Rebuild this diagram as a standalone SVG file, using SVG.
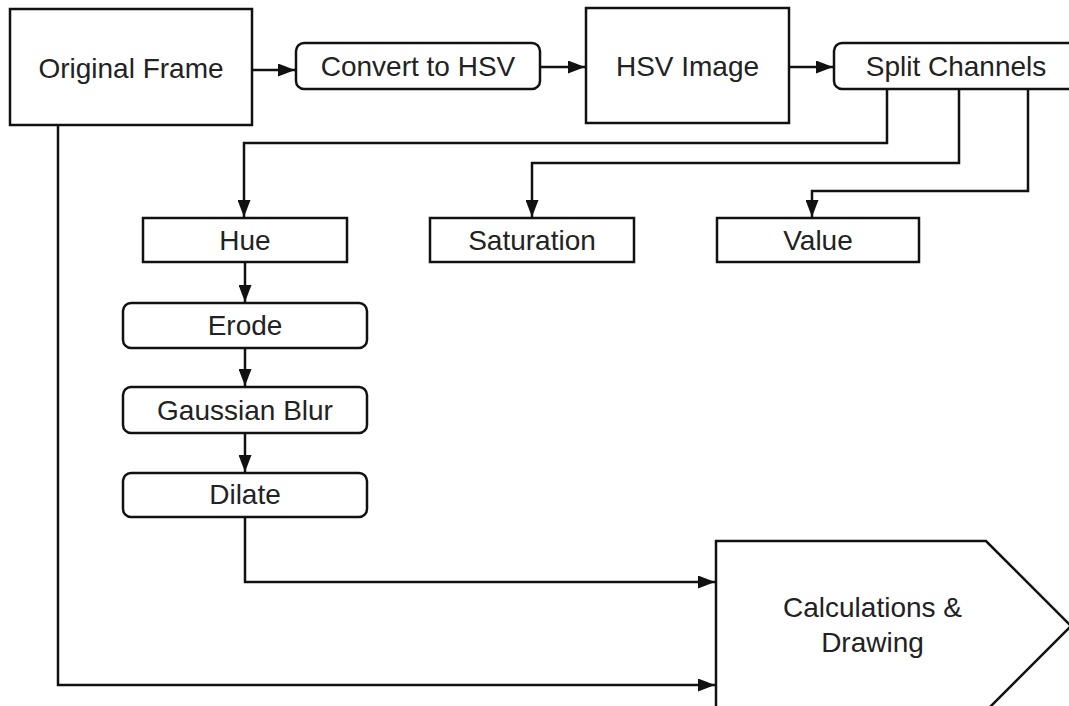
<svg xmlns="http://www.w3.org/2000/svg" width="1069" height="706" viewBox="0 0 1069 706">
<defs>
<style>
.box{fill:#fff;stroke:#111;stroke-width:2.5}
.lbl{font-family:"Liberation Sans",Arial,sans-serif;font-size:28px;fill:#222;text-anchor:middle}
.con{fill:none;stroke:#111;stroke-width:2.5}
</style>
<marker id="ah" viewBox="0 0 17 13" refX="17" refY="6.5" markerWidth="17" markerHeight="13" markerUnits="userSpaceOnUse" orient="auto">
<path d="M0,0 L17,6.5 L0,13 z" fill="#111"/>
</marker>
</defs>
<rect width="1069" height="706" fill="#fff"/>
<g id="connectors">
<path class="con" d="M252,70 H295" marker-end="url(#ah)"/>
<path class="con" d="M540,67 H585" marker-end="url(#ah)"/>
<path class="con" d="M789,67 H833" marker-end="url(#ah)"/>
<path class="con" d="M887,89 V143 H244 V217" marker-end="url(#ah)"/>
<path class="con" d="M959,89 V163 H532 V217" marker-end="url(#ah)"/>
<path class="con" d="M1028,89 V191 H812 V217" marker-end="url(#ah)"/>
<path class="con" d="M245,262 V302" marker-end="url(#ah)"/>
<path class="con" d="M245,348 V386" marker-end="url(#ah)"/>
<path class="con" d="M245,433 V472" marker-end="url(#ah)"/>
<path class="con" d="M245,517 V582 H715" marker-end="url(#ah)"/>
<path class="con" d="M58,125 V685 H715" marker-end="url(#ah)"/>
</g>
<g id="original-frame">
<rect class="box" x="10" y="9" width="242" height="116"/>
<text class="lbl" x="131" y="78">Original Frame</text>
</g>
<g id="convert-hsv">
<rect class="box" x="296" y="43" width="244" height="46" rx="8"/>
<text class="lbl" x="418" y="76">Convert to HSV</text>
</g>
<g id="hsv-image">
<rect class="box" x="586" y="8" width="203" height="115"/>
<text class="lbl" x="687.5" y="76">HSV Image</text>
</g>
<g id="split-channels">
<rect class="box" x="834" y="43" width="244" height="46" rx="8"/>
<text class="lbl" x="956" y="76">Split Channels</text>
</g>
<g id="hue">
<rect class="box" x="143" y="218" width="204" height="44"/>
<text class="lbl" x="245" y="250">Hue</text>
</g>
<g id="saturation">
<rect class="box" x="430" y="218" width="204" height="44"/>
<text class="lbl" x="532" y="250">Saturation</text>
</g>
<g id="value">
<rect class="box" x="717" y="218" width="202" height="44"/>
<text class="lbl" x="818" y="250">Value</text>
</g>
<g id="erode">
<rect class="box" x="123" y="303" width="244" height="45" rx="8"/>
<text class="lbl" x="245" y="335">Erode</text>
</g>
<g id="gaussian-blur">
<rect class="box" x="123" y="387" width="244" height="46" rx="8"/>
<text class="lbl" x="245" y="420">Gaussian Blur</text>
</g>
<g id="dilate">
<rect class="box" x="123" y="473" width="244" height="44" rx="8"/>
<text class="lbl" x="245" y="504">Dilate</text>
</g>
<g id="calculations">
<path class="box" d="M716,541 H986 L1071,626 L986,711 H716 Z"/>
<text class="lbl" x="872.5" y="617">Calculations &amp;</text>
<text class="lbl" x="872.5" y="652">Drawing</text>
</g>
</svg>
